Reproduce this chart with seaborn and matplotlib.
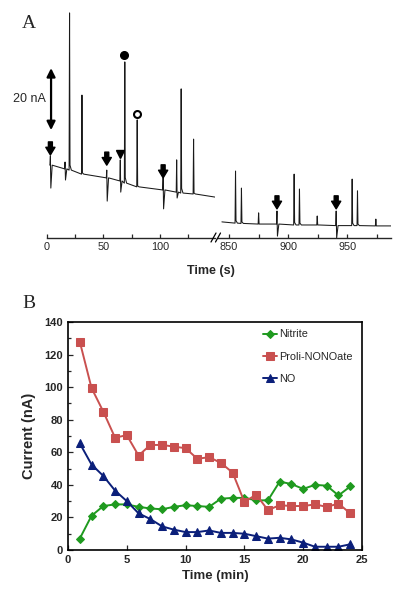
import numpy as np
import pandas as pd
import matplotlib
matplotlib.use("Agg")
import matplotlib.pyplot as plt
from matplotlib.ticker import MultipleLocator
import seaborn as sns

# ---- panel A: electropherogram (time s, baseline nA, peak top nA, low after peak nA)
left_t = [3, 16, 20, 31, 53, 65, 69, 80, 103, 115, 119, 130]
left_base = [23.5, 22.3, 21.9, 20.6, 19.4, 18.4, 17.7, 16.5, 15.5, 14.8, 14.5, 14.2]
left_top = [26.5, 24.5, 72.6, 46.1, 21.9, 25.2, 56.8, 38.1, 19.4, 25.2, 48.1, 31.9]
left_low = [16.1, 18.7, 23.5, 21.0, 11.9, 14.8, 19.5, 16.8, 9.4, 12.9, 16.0, 14.5]
left_end = (149, 13.2)

right_t = [855.5, 860.5, 875, 890.5, 905, 909.5, 924.5, 940.5, 954, 958.5, 974]
right_base = [4.8, 4.7, 4.5, 4.5, 4.2, 4.2, 4.2, 4.0, 4.0, 4.0, 3.9]
right_top = [21.6, 16.1, 8.1, 8.7, 20.6, 15.8, 7.1, 8.7, 19.0, 15.2, 6.1]
right_low = [5.6, 5.2, 4.5, 0.6, 5.0, 4.8, 4.2, 0.0, 4.8, 4.5, 3.9]
right_start = (844, 5.2)
right_end = (987, 3.9)

# injection arrows (time, tip height nA)
arrow_t_left = [3, 53, 103]
arrow_tip_left = [26.8, 23.5, 19.4]
arrow_t_right = [890.5, 940.5]
arrow_tip_right = [9.4, 9.4]

# ---- panel B
minutes = list(range(1, 25))
nitrite = [7, 21, 27, 28, 28, 26.5, 25.5, 25, 26.5, 27.5, 27, 26.5,
           31.5, 32, 32, 30.5, 30.5, 42, 40.5, 37.5, 40, 39.5, 33.5, 39]
proli = [128, 99.5, 85, 69, 70.5, 58, 64.5, 64.5, 63.5, 62.5, 56, 57,
         53.5, 47.5, 29.5, 34, 24.5, 27.5, 27, 27, 28, 26.5, 28.5, 22.5]
no = [65.5, 52.5, 45.5, 36.5, 30, 22.5, 19, 14.5, 12.5, 11, 11, 12,
      10.5, 10.5, 10, 8.5, 7, 7.5, 6.5, 4.5, 2, 2, 2, 3.5]

sns.set_style("ticks")
plt.rcParams["font.family"] = ["Liberation Sans", "DejaVu Sans"]

W, H = 404, 600
fig = plt.figure(figsize=(W / 100, H / 100), dpi=100)


def trace(ts, base, top, low, start, end):
    xs, ys = [start[0]], [start[1]]
    for t, b, h, l in zip(ts, base, top, low):
        xs += [t - 0.4, t, t + 0.4, t + 1.6]
        ys += [b, h, l, b]
    xs.append(end[0])
    ys.append(end[1])
    return pd.DataFrame({"t": xs, "i": ys})


def fr(x0, y0, x1, y1):
    return [x0 / W, 1 - y1 / H, (x1 - x0) / W, (y1 - y0) / H]


ylimA = (0, 230 / 3.1)
axL = fig.add_axes(fr(47, 8, 215, 238))
axR = fig.add_axes(fr(218, 8, 391, 238))

dl = trace(left_t, left_base, left_top, left_low, (2.5, left_base[0]), left_end)
dr = trace(right_t, right_base, right_top, right_low, right_start, right_end)
sns.lineplot(data=dl, x="t", y="i", estimator=None, sort=False, ax=axL,
             color="#1a1a1a", lw=0.75)
sns.lineplot(data=dr, x="t", y="i", estimator=None, sort=False, ax=axR,
             color="#1a1a1a", lw=0.75)

axL.set_xlim(0, 149)
axR.set_xlim(840.7, 986.8)
arrow_style = "simple,head_width=0.6,head_length=0.5,tail_width=0.26"
for ax, ats, tips in [(axL, arrow_t_left, arrow_tip_left),
                      (axR, arrow_t_right, arrow_tip_right)]:
    ax.set_ylim(*ylimA)
    ax.set_xlabel("")
    ax.set_ylabel("")
    ax.set_yticks([])
    for s in ["left", "right", "top"]:
        ax.spines[s].set_visible(False)
    ax.spines["bottom"].set_linewidth(1.0)
    ax.xaxis.set_major_locator(MultipleLocator(50))
    ax.xaxis.set_minor_locator(MultipleLocator(25))
    ax.tick_params(axis="x", which="both", direction="in", length=3,
                   width=0.9, labelsize=7.8, pad=3)
    for t, tip in zip(ats, tips):
        ax.annotate("", xy=(t, tip), xytext=(t, tip + 4.2),
                    arrowprops=dict(arrowstyle=arrow_style, color="black",
                                    mutation_scale=11, shrinkA=0, shrinkB=0))

# peak markers
axL.plot([64.5], [27.1], marker="v", color="black", ms=5.5, ls="none")
axL.plot([68.7], [59.0], marker="o", color="black", ms=5.5, ls="none")
axL.plot([79.6], [40.0], marker="o", mfc="white", mec="black", mew=1.5,
         ms=5, ls="none")

# scale bar
axL.annotate("", xy=(3.6, 34.8), xytext=(3.6, 54.8),
             arrowprops=dict(arrowstyle="<|-|>,head_width=0.25,head_length=0.5",
                             color="black", lw=1.6, shrinkA=0, shrinkB=0))
axL.text(-0.8, 44.8, "20 nA", ha="right", va="center", fontsize=9,
         clip_on=False)

# axis break marks
for x0 in (211, 215.5):
    fig.add_artist(plt.Line2D([x0 / W, (x0 + 5) / W],
                              [1 - 242 / H, 1 - 233 / H],
                              color="black", lw=0.9))

fig.text(211 / W, 1 - 271 / H, "Time (s)", ha="center", va="center",
         fontsize=9, fontweight="bold")
fig.text(22 / W, 1 - 28 / H, "A", fontsize=14, family="Liberation Serif",
         ha="left", va="baseline")
fig.text(22 / W, 1 - 308 / H, "B", fontsize=14, family="Liberation Serif",
         ha="left", va="baseline")

# ---- panel B
axB = fig.add_axes(fr(68, 322, 362, 550))
series = [
    ("Nitrite", nitrite, "#1f9a1f", "D", 3.6),
    ("Proli-NONOate", proli, "#c9504f", "s", 5.2),
    ("NO", no, "#0b1f7a", "^", 5.8),
]
for name, vals, col, mk, ms in series:
    sns.lineplot(x=minutes, y=vals, ax=axB, color=col, marker=mk,
                 markersize=ms, markeredgecolor=col, lw=1.4, label=name)

axB.set_xlim(0, 25)
axB.set_ylim(0, 140)
axB.xaxis.set_major_locator(MultipleLocator(5))
axB.yaxis.set_major_locator(MultipleLocator(20))
axB.yaxis.set_minor_locator(MultipleLocator(10))
axB.tick_params(which="both", direction="in", width=0.9, labelsize=8,
                top=False, right=False)
axB.tick_params(which="major", length=3.5)
axB.tick_params(which="minor", length=2.5)
for lab in axB.get_xticklabels() + axB.get_yticklabels():
    lab.set_fontweight("bold")
for s in axB.spines.values():
    s.set_linewidth(1.2)
    s.set_color("black")
axB.set_xlabel("Time (min)", fontsize=9.5, fontweight="bold", labelpad=4)
axB.set_ylabel("Current (nA)", fontsize=10.5, fontweight="bold", labelpad=6)
axB.legend(loc="upper left", bbox_to_anchor=(0.663, 0.968), frameon=False,
           fontsize=7.8, handlelength=1.3, handletextpad=0.15,
           labelspacing=1.15, borderpad=0, borderaxespad=0)

fig.savefig("out.png", dpi=100)
